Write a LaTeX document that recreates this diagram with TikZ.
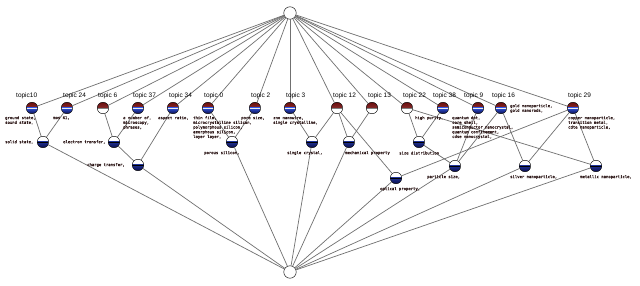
\documentclass[tikz,border=0pt]{standalone}
\usepackage{fontspec}
\setmainfont{Liberation Sans}
\newfontfamily\lblmono[FakeBold=0.5]{DejaVu Sans Mono}
\definecolor{rtop}{HTML}{6A0E0E}
\definecolor{rbot}{HTML}{A04848}
\definecolor{btop}{HTML}{2E50D8}
\definecolor{bbot}{HTML}{0C0E4A}
\definecolor{edgegray}{HTML}{707070}
\definecolor{lbltext}{HTML}{2A1414}
\begin{document}
\begin{tikzpicture}[x=1pt,y=-1pt,
  base/.style={circle, draw=black, line width=0.45pt, minimum size=11.5pt, inner sep=0pt, fill=white},
  topicBR/.style={base, path picture={
    \shade[top color=rtop, bottom color=rbot] (path picture bounding box.north west) rectangle (path picture bounding box.east);
    \shade[top color=btop, bottom color=bbot] (path picture bounding box.west) rectangle (path picture bounding box.south east);
    \draw[line width=0.5pt, white!85!gray] (path picture bounding box.west) -- (path picture bounding box.east);}},
  topicRW/.style={base, path picture={
    \shade[top color=rtop, bottom color=rbot] (path picture bounding box.north west) rectangle (path picture bounding box.east);
    \draw[line width=0.4pt, gray] (path picture bounding box.west) -- (path picture bounding box.east);}},
  objnode/.style={base, path picture={
    \shade[top color=btop, bottom color=bbot] (path picture bounding box.west) rectangle (path picture bounding box.south east);
    \draw[line width=0.4pt, black] (path picture bounding box.west) -- (path picture bounding box.east);}},
  endnode/.style={base, minimum size=12.5pt},
  tlabel/.style={anchor=base west, inner sep=0pt, font=\fontsize{6.5}{7}\selectfont},
  mlabel/.style={anchor=north west, inner sep=0pt, align=left, text=lbltext, font=\lblmono\fontsize{3.9}{4.7}\selectfont},
  olabel/.style={anchor=west, inner sep=0pt, text=lbltext, font=\lblmono\fontsize{3.9}{4.7}\selectfont},
  edge/.style={draw=edgegray, line width=0.7pt}
]
\fill[white] (0,0) rectangle (640,286);
\useasboundingbox (0,0) rectangle (640,286);

% top and bottom
\node[endnode] (top) at (290,13) {};
\node[endnode] (bot) at (290,272) {};

% topic row
\node[topicBR] (t10) at (32,108) {};
\node[topicBR] (t24) at (67,108) {};
\node[topicRW] (t6)  at (103,108) {};
\node[topicBR] (t37) at (138,108) {};
\node[topicBR] (t34) at (173,108) {};
\node[topicBR] (t0)  at (208,108) {};
\node[topicBR] (t2)  at (255,108) {};
\node[topicBR] (t3)  at (290,108) {};
\node[topicRW] (t12) at (337,108) {};
\node[topicRW] (t13) at (372,108) {};
\node[topicRW] (t22) at (407,108) {};
\node[topicBR] (t38) at (443,108) {};
\node[topicBR] (t9)  at (478,108) {};
\node[topicBR] (t16) at (501,108) {};
\node[topicBR] (t29) at (573,108) {};

% lower nodes
\node[objnode] (solid) at (43,142) {};
\node[objnode] (elec) at (114,142) {};
\node[objnode] (charge) at (138,165) {};
\node[objnode] (porous) at (232,142) {};
\node[objnode] (single) at (312,142) {};
\node[objnode] (mech) at (349,142) {};
\node[objnode] (sizedist) at (419,142) {};
\node[objnode] (optical) at (396,178) {};
\node[objnode] (particle) at (455,166) {};
\node[objnode] (silver) at (525,166) {};
\node[objnode] (metallic) at (596,166) {};

% edges
\foreach \t in {t10,t24,t6,t37,t34,t0,t2,t3,t12,t13,t22,t38,t9,t16,t29}
  \draw[edge] (top) -- (\t);
\draw[edge] (t10) -- (solid);
\draw[edge] (t24) -- (solid);
\draw[edge] (t6) -- (elec);
\draw[edge] (t37) -- (elec);
\draw[edge] (elec) -- (charge);
\draw[edge] (t34) -- (charge);
\draw[edge] (t0) -- (porous);
\draw[edge] (t2) -- (porous);
\draw[edge] (t3) -- (single);
\draw[edge] (t12) -- (single);
\draw[edge] (t12) -- (mech);
\draw[edge] (t13) -- (mech);
\draw[edge] (t12) -- (optical);
\draw[edge] (t29) -- (optical);
\draw[edge] (t22) -- (sizedist);
\draw[edge] (t38) -- (sizedist);
\draw[edge] (t22) -- (metallic);
\draw[edge] (sizedist) -- (particle);
\draw[edge] (t9) -- (particle);
\draw[edge] (t16) -- (particle);
\draw[edge] (t16) -- (silver);
\draw[edge] (t29) -- (silver);
\draw[edge] (t29) -- (metallic);
\foreach \o in {solid,charge,porous,single,mech,optical,particle,silver,metallic}
  \draw[edge] (\o) -- (bot);

% topic labels
\node[tlabel] (lt10) at (16,98) {topic10};
\node[tlabel] (lt24) at (63,98) {topic 24};
\node[tlabel] (lt6)  at (98,98) {topic 6};
\node[tlabel] (lt37) at (133,98) {topic 37};
\node[tlabel] (lt34) at (169,98) {topic 34};
\node[tlabel] (lt0)  at (204,98) {topic 0};
\node[tlabel] (lt2)  at (251,98) {topic 2};
\node[tlabel] (lt3)  at (286,98) {topic 3};
\node[tlabel] (lt12) at (333,98) {topic 12};
\node[tlabel] (lt13) at (368,98) {topic 13};
\node[tlabel] (lt22) at (403,98) {topic 22};
\node[tlabel] (lt38) at (433,98) {topic 38};
\node[tlabel] (lt9)  at (464,98) {topic 9};
\node[tlabel] (lt16) at (492,98) {topic 16};
\node[tlabel] (lt29) at (568,98) {topic 29};

% attribute labels
\node[mlabel] (m10) at (5,116) {ground state,\\sound state,};
\node[mlabel] (m24) at (53,116) {mos 41,};
\node[mlabel] (m37) at (123,116) {a number of,\\microscopy,\\phrases,};
\node[mlabel] (m34) at (158,116) {aspect ratio,};
\node[mlabel] (m0)  at (193,116) {thin film,\\microcrystalline silicon,\\polymorphous silicon,\\amorphous silicon,\\layer layer,};
\node[mlabel] (m2)  at (241,116) {pore size,};
\node[mlabel] (m3)  at (273,116) {zno nanowire,\\single crystalline,};
\node[mlabel] (m22) at (415,116) {high purity,};
\node[mlabel] (m9)  at (452,116) {quantum dot,\\core shell,\\semiconductor nanocrystal,\\quantum confinement,\\cdse nanocrystal,};
\node[mlabel] (m16) at (510,104) {gold nanoparticle,\\gold nanorods,};
\node[mlabel] (m29) at (568,116) {copper nanoparticle,\\transition metal,\\cdte nanoparticle,};

% object labels
\node[olabel] (osolid) at (5,142) {solid state,};
\node[olabel] (oelec) at (63,142) {electron transfer,};
\node[olabel] (ocharge) at (87,165) {charge transfer,};
\node[olabel] (oporous) at (204,153) {porous silicon,};
\node[olabel] (osingle) at (287,153) {single crystal,};
\node[olabel] (omech) at (345,153) {mechanical property};
\node[olabel] (osize) at (399,153) {size distribution};
\node[olabel] (oparticle) at (427,177) {particle size,};
\node[olabel] (ooptical) at (380,189) {optical property,};
\node[olabel] (osilver) at (510,177) {silver nanoparticle,};
\node[olabel] (ometallic) at (580,177) {metallic nanoparticle,};
\end{tikzpicture}
\end{document}
